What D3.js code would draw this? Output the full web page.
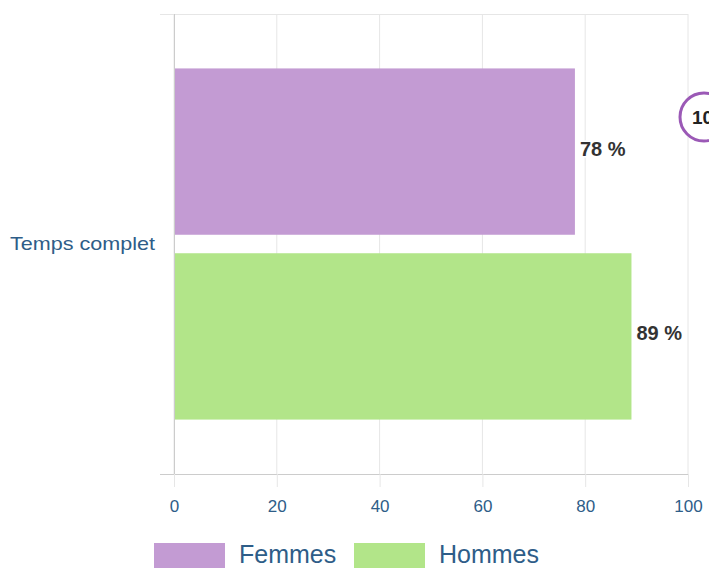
<!DOCTYPE html>
<html>
<head>
<meta charset="utf-8">
<script src="https://cdn.jsdelivr.net/npm/d3@7"></script>
<style>
  body { margin: 0; background: #fff; }
  svg { font-family: "Liberation Sans", Arial, sans-serif; }
</style>
</head>
<body>
<div id="chart"></div>
<script>
var categories = ["Temps complet"];
var seriesNames = ["Femmes", "Hommes"];
var femmes = [78];
var hommes = [89];
var xTicks = [0, 20, 40, 60, 80, 100];
var colors = ["#c39bd3", "#b2e589"];
var badgeText = "100 %";

var width = 709,
    height = 568,
    margin = {top: 14, right: 21, bottom: 94, left: 174};

var plotBottom = height - margin.bottom;

var svg = d3.select("#chart")
    .append("svg")
    .attr("width", width)
    .attr("height", height);

var x = d3.scaleLinear()
    .domain([0, 100])
    .range([margin.left, width - margin.right]);

var y0 = d3.scaleBand()
    .domain(categories)
    .range([margin.top, plotBottom])
    .paddingInner(0)
    .paddingOuter(0.155);

var y1 = d3.scaleBand()
    .domain(seriesNames)
    .range([0, y0.bandwidth()])
    .paddingInner(0.1)
    .paddingOuter(0);

var color = d3.scaleOrdinal().domain(seriesNames).range(colors);

// rows: one per category and series
var rows = [];
categories.forEach((c, i) => {
    rows.push({cat: c, name: "Femmes", value: femmes[i]});
    rows.push({cat: c, name: "Hommes", value: hommes[i]});
});

// vertical grid lines
svg.append("g")
    .selectAll("line")
    .data(xTicks)
    .join("line")
    .attr("x1", d => x(d)).attr("x2", d => x(d))
    .attr("y1", margin.top).attr("y2", plotBottom)
    .attr("stroke", "#e6e6e6");

// category band boundaries (top line + bottom line), with ticks to the left
var bounds = [margin.top, plotBottom];
svg.append("g")
    .selectAll("line")
    .data(bounds)
    .join("line")
    .attr("x1", margin.left - 14).attr("x2", x(100))
    .attr("y1", d => d + 0.5).attr("y2", d => d + 0.5)
    .attr("stroke", (d, i) => i == 0 ? "#e6e6e6" : "#cccccc");

// left axis line
svg.append("line")
    .attr("x1", margin.left + 0.5).attr("x2", margin.left + 0.5)
    .attr("y1", margin.top).attr("y2", plotBottom)
    .attr("stroke", "#cccccc");

// bottom value axis
var xAxis = svg.append("g")
    .attr("transform", `translate(0, ${plotBottom})`)
    .call(d3.axisBottom(x).tickValues(xTicks).tickSize(13).tickFormat(d3.format("d")));
xAxis.select(".domain").remove();
xAxis.selectAll(".tick line").attr("stroke", "#e6e6e6");
xAxis.selectAll(".tick text")
    .attr("y", 38)
    .attr("dy", 0)
    .attr("fill", "#2e5d88")
    .style("font-size", "17px")
    .style("font-family", "Liberation Sans, Arial, sans-serif");

// category label
svg.append("g")
    .selectAll("text")
    .data(categories)
    .join("text")
    .attr("x", margin.left - 19)
    .attr("y", d => y0(d) + y0.bandwidth() / 2 + 6)
    .attr("text-anchor", "end")
    .attr("fill", "#2e5d88")
    .style("font-size", "19px")
    .attr("textLength", 145)
    .attr("lengthAdjust", "spacingAndGlyphs")
    .text(d => d);

// bars
svg.append("g")
    .selectAll("rect")
    .data(rows)
    .join("rect")
    .attr("x", x(0) + 1)
    .attr("y", d => y0(d.cat) + y1(d.name))
    .attr("width", d => x(d.value) - x(0) - 1)
    .attr("height", y1.bandwidth())
    .attr("fill", d => color(d.name));

// data labels with white halo
svg.append("g")
    .selectAll("text")
    .data(rows)
    .join("text")
    .attr("x", d => x(d.value) + 5)
    .attr("y", d => y0(d.cat) + y1(d.name) + y1.bandwidth() / 2 + 4)
    .attr("fill", "#333")
    .attr("stroke", "#fff")
    .attr("stroke-width", 3)
    .attr("paint-order", "stroke")
    .style("font-size", "20px")
    .style("font-weight", "bold")
    .text(d => d.value + " %");

// badge at the right edge (cut off)
var badge = svg.append("g").attr("transform", "translate(704, 117)");
badge.append("circle")
    .attr("r", 24)
    .attr("fill", "#fff")
    .attr("stroke", "#9b59b6")
    .attr("stroke-width", 3);
badge.append("text")
    .attr("x", -12)
    .attr("y", 7)
    .attr("fill", "#222")
    .style("font-size", "19px")
    .style("font-weight", "bold")
    .text(badgeText);

// legend
var legend = svg.append("g")
    .attr("transform", "translate(154, 543)");
var item = legend.selectAll("g")
    .data(seriesNames)
    .join("g")
    .attr("transform", (d, i) => `translate(${i * 200}, 0)`);
item.append("rect")
    .attr("width", 71)
    .attr("height", 26)
    .attr("fill", d => color(d));
item.append("text")
    .attr("x", 85)
    .attr("y", 20)
    .attr("fill", "#2e5d88")
    .style("font-size", "25px")
    .text(d => d);
</script>
</body>
</html>
